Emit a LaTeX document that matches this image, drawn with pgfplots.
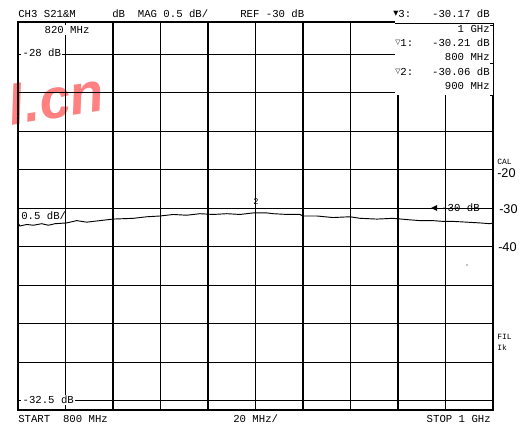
\documentclass[border=0pt]{standalone}
\usepackage{pgfplots}
\pgfplotsset{compat=1.18}
\usepackage{fontspec}
\setmainfont{Liberation Sans}
\newfontfamily\plt{Liberation Mono}
\newfontfamily\sym{DejaVu Sans}
\begin{document}
\begin{tikzpicture}
\path[use as bounding box] (0,0) rectangle (395.25pt,318.75pt);

% watermark behind the screen
\begin{scope}[x=0.75pt,y=-0.75pt,yshift=318.75pt]
  \node[font=\fontsize{42}{42}\selectfont\bfseries\itshape, text=red!70, opacity=0.7,
        rotate=9] at (56,98) {l.cn};
\end{scope}

\begin{axis}[
    at={(13.5pt,11.25pt)}, anchor=south west,
    scale only axis, width=356.25pt, height=291pt,
    xmin=800, xmax=1000,
    ymin=-32.62, ymax=-27.58,
    xtick={820,840,...,980},
    ytick={-32.5,-32,...,-28},
    xticklabels={}, yticklabels={},
    major tick length=0pt,
    grid=major,
    grid style={black, line width=0.8pt},
    axis line style={line width=1.2pt},
    clip=false,
]
  % S21 trace, 800 MHz .. 1 GHz
  \addplot[black, line width=0.7pt] coordinates {
    (800,-30.19) (800.8,-30.23) (803.7,-30.21) (806.5,-30.22) (810,-30.20)
    (812.8,-30.22) (815.6,-30.20) (820.5,-30.19) (824.7,-30.16) (828.9,-30.18)
    (834.5,-30.16) (840,-30.14) (848.6,-30.13) (854.2,-30.11) (859.8,-30.10)
    (865.4,-30.08) (871,-30.09) (876.6,-30.07) (882.2,-30.08) (887.9,-30.07)
    (893.5,-30.08) (899,-30.06) (904.7,-30.06) (907.4,-30.07) (913.3,-30.08)
    (918.7,-30.08) (920,-30.10) (925.9,-30.10) (932.6,-30.12) (939.8,-30.11)
    (944,-30.13) (951.2,-30.14) (957.9,-30.13) (965,-30.15) (969.3,-30.16)
    (974.7,-30.16) (979,-30.17) (983.2,-30.17) (989,-30.18) (994.5,-30.19)
    (998.7,-30.20) (1000,-30.19)
  };
\end{axis}

\begin{scope}[x=0.75pt,y=-0.75pt,yshift=318.75pt,
    every node/.style={inner sep=0pt, font=\fontsize{8}{8}\plt}]
  % marker readout box
  \fill[white] (394.5,0) rectangle (497,95);
  \draw[line width=0.5pt] (395,23) -- (493,23) -- (493,95);
  \draw[line width=0.5pt] (493,25) -- (490,25) (493,63) -- (490,63) (493,95) -- (490,95);

  % header
  \node[anchor=west] at (18,14) {CH3 S21\&M};
  \node[anchor=west] at (112,14) {dB\ \ MAG 0.5 dB/};
  \node[anchor=west] at (240,14) {REF -30 dB};
  \node[anchor=west] at (393,14) {{\sym\fontsize{5}{5}\selectfont\raisebox{1.5pt}{▼}}3:};
  \node[anchor=east] at (490,14) {-30.17 dB};
  \node[anchor=east] at (490,29) {1 GHz};
  \node[anchor=west] at (395,43) {{\sym\fontsize{5}{5}\selectfont\raisebox{1.5pt}{▽}}1:};
  \node[anchor=east] at (490,43) {-30.21 dB};
  \node[anchor=east] at (490,57) {800 MHz};
  \node[anchor=west] at (395,72) {{\sym\fontsize{5}{5}\selectfont\raisebox{1.5pt}{▽}}2:};
  \node[anchor=east] at (490,72) {-30.06 dB};
  \node[anchor=east] at (490,86) {900 MHz};

  % labels inside the screen
  \node[anchor=west, fill=white, inner xsep=1pt, inner ysep=1pt] at (43,30) {820 MHz};
  \node[anchor=west, fill=white, inner xsep=1pt, inner ysep=1pt] at (21,53) {-28 dB};
  \node[anchor=west] at (21,216) {0.5 dB/};
  \node[font=\fontsize{6.5}{6.5}\plt] at (256,202) {2};
  \node[anchor=west] at (441,208) {-30 dB};
  \fill (431,208) -- (437,205) -- (437,211) -- cycle;
  \node[anchor=west, fill=white, inner xsep=1pt, inner ysep=1pt] at (21,400) {-32.5 dB};
  \fill (467,265) circle (0.6);

  % footer
  \node[anchor=west] at (18,419) {START\ \ 800 MHz};
  \node[anchor=west] at (233,419) {20 MHz/};
  \node[anchor=east] at (491,419) {STOP 1 GHz};

  % right margin annotations
  \node[anchor=west, font=\fontsize{6}{6}\plt] at (497,162) {CAL};
  \node[anchor=west, font=\fontsize{9.5}{9.5}\selectfont] at (497,173) {-20};
  \node[anchor=west, font=\fontsize{9.5}{9.5}\selectfont] at (499,209) {-30};
  \node[anchor=west, font=\fontsize{9.5}{9.5}\selectfont] at (498,247) {-40};
  \node[anchor=west, font=\fontsize{6}{6}\plt] at (497,337) {FIL};
  \node[anchor=west, font=\fontsize{6}{6}\plt] at (497,348) {Ik};
\end{scope}
\end{tikzpicture}
\end{document}
